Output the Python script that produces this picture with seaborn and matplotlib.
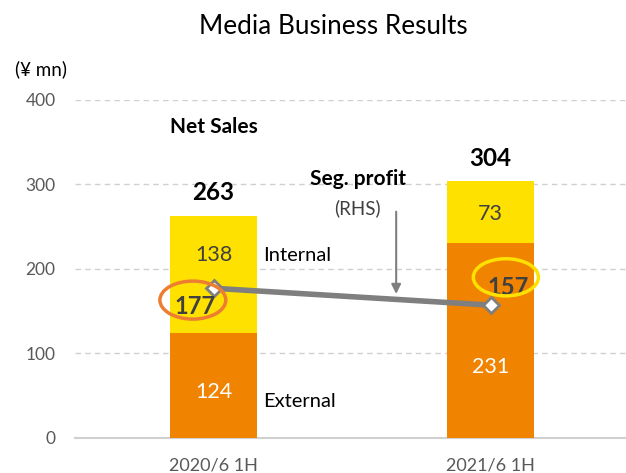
import matplotlib
matplotlib.use("Agg")
import matplotlib.pyplot as plt
from matplotlib.patches import Ellipse, Rectangle
import seaborn as sns
import pandas as pd

# данные с графика
periods = ["2020/6 1H", "2021/6 1H"]
external = [124, 231]
internal = [138, 73]
net_sales = [263, 304]
seg_profit = [177, 157]

YELLOW = "#FFE100"
ORANGE = "#F08300"
GRAY_TXT = "#595959"
DARK = "#404040"

sns.set_style("white")
plt.rcParams["font.family"] = ["Lato", "DejaVu Sans"]

df = pd.DataFrame({"period": periods, "external": external,
                   "internal": internal, "total": net_sales})

fig = plt.figure(figsize=(6.26, 4.73), dpi=100)
ax = fig.add_axes([0.12, 0.0746, 0.885, 0.714])

# стек: сначала весь столбик (жёлтый), поверх внешние продажи (оранжевый)
sns.barplot(data=df, x="period", y="total", color=YELLOW, width=0.314,
            saturation=1, linewidth=0, ax=ax, zorder=2)
sns.barplot(data=df, x="period", y="external", color=ORANGE, width=0.314,
            saturation=1, linewidth=0, ax=ax, zorder=3)

# сегментная прибыль (правая шкала совпадает с левой)
xs = list(range(len(periods)))
ax.plot(xs, seg_profit, color="#7F7F7F", lw=4, marker="D", ms=8.5,
        mfc="white", mec="#7F7F7F", mew=2, zorder=5)

ax.set_xlim(-0.5, 1.5)
ax.set_ylim(0, 400)
ax.set_yticks([0, 100, 200, 300, 400])
ax.set_xlabel("")
ax.set_ylabel("")
ax.grid(axis="y", linestyle=(0, (4, 3)), color="#D0D0D0", lw=1, zorder=0)
ax.set_axisbelow(True)
for s in ["left", "right", "top"]:
    ax.spines[s].set_visible(False)
ax.spines["bottom"].set_color("#D0D0D0")
ax.spines["bottom"].set_linewidth(1.5)
ax.tick_params(axis="both", length=0, colors=GRAY_TXT)
ax.tick_params(axis="y", pad=14, labelsize=12.5)
ax.tick_params(axis="x", pad=14, labelsize=13)

# подписи сегментов
for i in xs:
    ax.text(i, net_sales[i] + 27, str(net_sales[i]), ha="center", va="center",
            fontsize=17.5, fontweight="bold", color="black")
ax.text(0, 216, str(internal[0]), ha="center", va="center", fontsize=15.5, color=DARK)
ax.text(1, 265, str(internal[1]), ha="center", va="center", fontsize=15.5, color=DARK)
ax.text(0, 54, str(external[0]), ha="center", va="center", fontsize=15.5, color="white")
ax.text(1, 84, str(external[1]), ha="center", va="center", fontsize=15.5, color="white")

ax.text(0.18, 216, "Internal", ha="left", va="center", fontsize=14.5, color="black")
ax.text(0.18, 43, "External", ha="left", va="center", fontsize=14.5, color="black")
ax.text(0, 368, "Net Sales", ha="center", va="center", fontsize=15,
        fontweight="bold", color="black")
ax.text(0.52, 307, "Seg. profit", ha="center", va="center", fontsize=15,
        fontweight="bold", color="black")
ax.text(0.52, 272, "(RHS)", ha="center", va="center", fontsize=13.5, color=DARK)

# стрелка к линии прибыли
ax.annotate("", xy=(0.659, 167), xytext=(0.659, 271),
            arrowprops=dict(arrowstyle="-|>", color="#7F7F7F", lw=1.5,
                            mutation_scale=14), zorder=6)

# значения прибыли в овалах
ax.text(-0.068, 155, str(seg_profit[0]), ha="center", va="center", fontsize=17,
        fontweight="bold", color=DARK, zorder=7)
ax.add_patch(Ellipse((-0.075, 163), 0.238, 45, fill=False, ec="#ED7D31",
                     lw=2.5, zorder=7))
t = ax.text(1.063, 178, str(seg_profit[1]), ha="center", va="center", fontsize=17,
            fontweight="bold", color=DARK, zorder=7)
clip = Rectangle((0.5, 172), 1.0, 200, transform=ax.transData)
t.set_clip_path(clip)
ax.add_patch(Ellipse((1.055, 190), 0.235, 44, fill=False, ec="#FFE100",
                     lw=2.5, zorder=7))

fig.text(0.532, 0.943, "Media Business Results", ha="center", va="center",
         fontsize=18.8, color="black")
fig.text(0.065, 0.854, "(¥ mn)", ha="center", va="center", fontsize=13.5,
         color="black")

fig.savefig("out.png", dpi=100)
